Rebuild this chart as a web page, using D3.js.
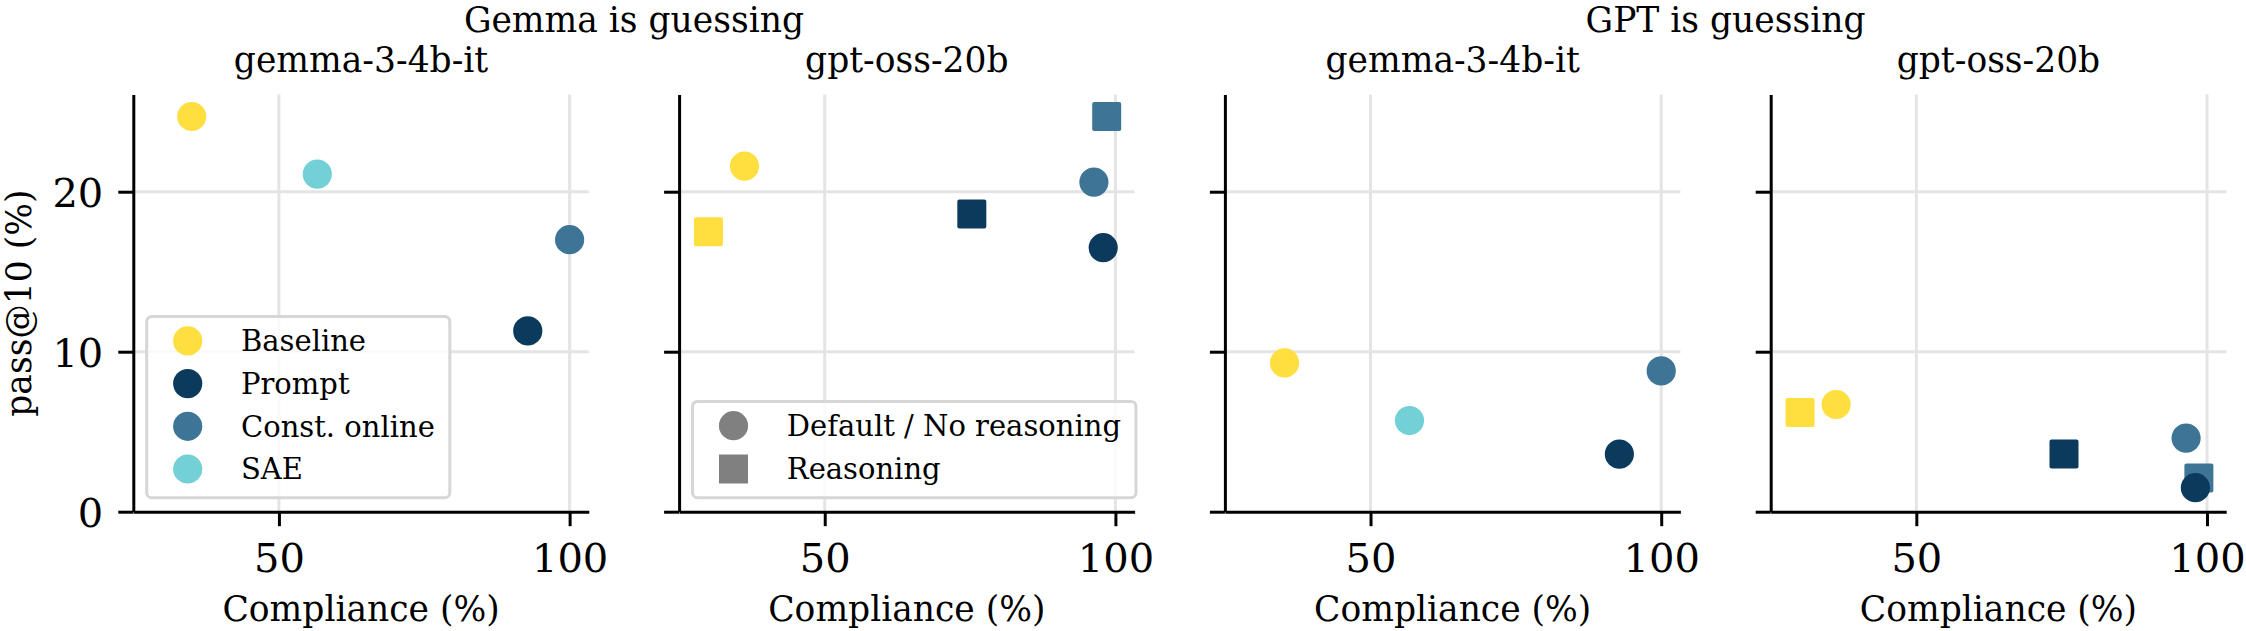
<!DOCTYPE html>
<html>
<head>
<meta charset="utf-8">
<script src="https://cdn.jsdelivr.net/npm/d3@7"></script>
<style>
  body { margin: 0; background: #fff; }
  text { font-family: "DejaVu Serif", serif; fill: #000; }
</style>
</head>
<body>
<div id="chart"></div>
<script>
// categories
let methods = ['Baseline', 'Prompt', 'Const. online', 'SAE'];
let methodColors = ['#ffde40', '#0c3a5c', '#3e7597', '#72d0d6'];
let modes = ['Default / No reasoning', 'Reasoning'];

let groupTitles = ['Gemma is guessing', 'GPT is guessing'];
let panelTitles = ['gemma-3-4b-it', 'gpt-oss-20b', 'gemma-3-4b-it', 'gpt-oss-20b'];

let xTicks = [50, 100];
let yTicks = [0, 10, 20];

// one row per panel, one value per method (null = not run)
let complianceDefault = [
    [35.0, 92.8, 100.0, 56.6],
    [36.2, 97.9, 96.3, null],
    [35.2, 92.8, 100.0, 56.7],
    [36.2, 98.0, 96.4, null]
];
let pass10Default = [
    [24.7, 11.3, 17.0, 21.1],
    [21.6, 16.5, 20.6, null],
    [9.3, 3.6, 8.8, 5.7],
    [6.7, 1.5, 4.6, null]
];
let complianceReasoning = [
    [null, null, null, null],
    [30.0, 75.3, 98.5, null],
    [null, null, null, null],
    [30.0, 75.4, 98.6, null]
];
let pass10Reasoning = [
    [null, null, null, null],
    [17.5, 18.6, 24.7, null],
    [null, null, null, null],
    [6.2, 3.6, 2.1, null]
];

let width = 2246,
    height = 631,
    left0 = 133.3,
    panelW = 455.5,
    panelH = 417.1,
    panelTop = 94.6,
    step = 545.8,
    r = 14.6,
    sq = 29,
    labelSize = '34.5px';

let svg = d3.select('#chart').append('svg')
    .attr('width', width)
    .attr('height', height);

let x = d3.scaleLinear().domain([24.95, 103.3]).range([0, panelW]);
let y = d3.scaleLinear().domain([0, 26.07]).range([panelH, 0]);

// group titles, centred over each pair of panels
groupTitles.forEach(function(t, i) {
    let l = left0 + i * 2 * step;
    svg.append('text')
        .attr('x', (l + l + step + panelW) / 2)
        .attr('y', 32)
        .attr('text-anchor', 'middle')
        .style('font-size', labelSize)
        .text(t);
});

panelTitles.forEach(function(title, p) {
    let g = svg.append('g')
        .attr('transform', 'translate(' + (left0 + p * step) + ',' + panelTop + ')');

    g.append('text')
        .attr('x', panelW / 2)
        .attr('y', 72 - panelTop)
        .attr('text-anchor', 'middle')
        .style('font-size', labelSize)
        .text(title);

    // grid
    g.append('g').selectAll('line.gx')
        .data(xTicks)
        .enter().append('line')
        .attr('x1', d => x(d)).attr('x2', d => x(d))
        .attr('y1', 0).attr('y2', panelH)
        .attr('stroke', '#e4e4e4').attr('stroke-width', 3);
    g.append('g').selectAll('line.gy')
        .data(yTicks.filter(d => d > 0))
        .enter().append('line')
        .attr('x1', 0).attr('x2', panelW)
        .attr('y1', d => y(d)).attr('y2', d => y(d))
        .attr('stroke', '#e4e4e4').attr('stroke-width', 3);

    // axes
    let xAxis = g.append('g')
        .attr('transform', 'translate(0,' + panelH + ')')
        .call(d3.axisBottom(x).tickValues(xTicks).tickSize(14.5).tickSizeOuter(0).tickPadding(17));
    let yAxis = g.append('g')
        .call(d3.axisLeft(y).tickValues(yTicks).tickSize(15).tickSizeOuter(0).tickPadding(15)
            .tickFormat(p === 0 ? d3.format('d') : ''));

    [xAxis, yAxis].forEach(function(a) {
        a.selectAll('path, line').attr('stroke', '#000').attr('stroke-width', 3);
        a.selectAll('text').style('font-size', '40px').attr('fill', '#000')
            .style('font-family', '"DejaVu Serif", serif');
    });
    yAxis.selectAll('text').attr('dy', '0.36em');

    g.append('text')
        .attr('x', panelW / 2)
        .attr('y', 621 - panelTop)
        .attr('text-anchor', 'middle')
        .style('font-size', labelSize)
        .text('Compliance (%)');

    if (p === 0) {
        g.append('text')
            .attr('transform', 'translate(' + (31 - left0) + ',' + (panelH / 2) + ') rotate(-90)')
            .attr('text-anchor', 'middle')
            .style('font-size', labelSize)
            .text('pass@10 (%)');
    }

    // reasoning squares first, default circles on top
    let sqData = methods.map((m, i) => ({ i: i, cx: complianceReasoning[p][i], cy: pass10Reasoning[p][i] }))
        .filter(d => d.cx !== null);
    g.append('g').selectAll('rect')
        .data(sqData)
        .enter().append('rect')
        .attr('x', d => x(d.cx) - sq / 2)
        .attr('y', d => y(d.cy) - sq / 2)
        .attr('width', sq).attr('height', sq)
        .attr('rx', 2)
        .attr('fill', d => methodColors[d.i]);

    let cData = methods.map((m, i) => ({ i: i, cx: complianceDefault[p][i], cy: pass10Default[p][i] }))
        .filter(d => d.cx !== null);
    g.append('g').selectAll('circle')
        .data(cData)
        .enter().append('circle')
        .attr('cx', d => x(d.cx))
        .attr('cy', d => y(d.cy))
        .attr('r', r)
        .attr('fill', d => methodColors[d.i]);

    if (p === 0) legend(g, methods.map((m, i) => ({ label: m, color: methodColors[i], shape: 'circle' })), 42.7);
    if (p === 1) legend(g, modes.map((m, i) => ({ label: m, color: '#808080', shape: i ? 'square' : 'circle' })), 43.3);
});

function legend(g, items, rowH) {
    let lg = g.append('g');
    let box = lg.append('rect');
    let maxW = 0;
    items.forEach(function(d, i) {
        let cy = 24.3 + i * rowH;
        if (d.shape === 'circle') {
            lg.append('circle').attr('cx', 41).attr('cy', cy).attr('r', r).attr('fill', d.color);
        } else {
            lg.append('rect').attr('x', 41 - sq / 2).attr('y', cy - sq / 2)
                .attr('width', sq).attr('height', sq).attr('fill', d.color);
        }
        let t = lg.append('text')
            .attr('x', 94.3)
            .attr('y', cy)
            .attr('dy', '0.36em')
            .style('font-size', '29px')
            .text(d.label);
        maxW = Math.max(maxW, t.node().getComputedTextLength());
    });
    let bw = 94.3 + maxW + 15,
        bh = 24.3 + (items.length - 1) * rowH + 28.7;
    box.attr('x', 0).attr('y', 0)
        .attr('width', bw).attr('height', bh)
        .attr('rx', 5)
        .attr('fill', '#fff').attr('fill-opacity', 0.8)
        .attr('stroke', '#d6d6d6').attr('stroke-width', 3);
    lg.attr('transform', 'translate(13.4,' + (panelH - 14 - bh) + ')');
}
</script>
</body>
</html>
